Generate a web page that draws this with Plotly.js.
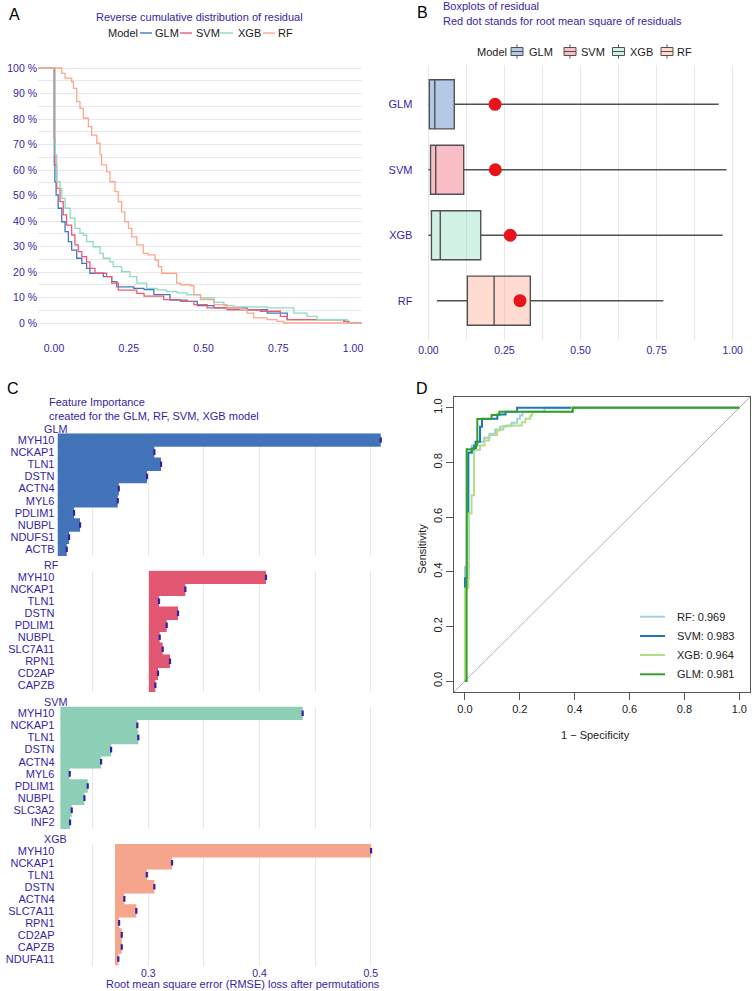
<!DOCTYPE html>
<html><head><meta charset="utf-8">
<script src="https://cdn.plot.ly/plotly-3.0.1.min.js"></script>
<style>html,body{margin:0;padding:0;background:#fff}#chart{width:752px;height:991px}</style>
</head><body><div id="chart"></div>
<script>
// ================= DATA =================
// Panel A: reverse cumulative distribution of |residual|
const models = ['GLM', 'SVM', 'XGB', 'RF'];
const glmResid = [0.0, 0.001, 0.003, 0.007, 0.014, 0.026, 0.037, 0.048, 0.059, 0.076, 0.093, 0.109, 0.120, 0.165, 0.193, 0.210, 0.267, 0.301, 0.334, 0.388, 0.445, 0.479, 0.535, 0.646, 0.713, 0.780, 0.969, 0.986];
const glmShare = [1.0, 0.620, 0.554, 0.502, 0.450, 0.397, 0.358, 0.319, 0.286, 0.254, 0.234, 0.214, 0.195, 0.182, 0.162, 0.142, 0.136, 0.131, 0.111, 0.090, 0.085, 0.068, 0.059, 0.052, 0.039, 0.013, 0.0065, 0];
const svmResid = [0.0, 0.001, 0.003, 0.009, 0.020, 0.031, 0.042, 0.059, 0.070, 0.081, 0.093, 0.109, 0.120, 0.137, 0.176, 0.193, 0.215, 0.277, 0.301, 0.367, 0.423, 0.468, 0.512, 0.579, 0.690, 0.757, 0.780, 0.969, 0.980];
const svmShare = [1.0, 0.725, 0.620, 0.528, 0.476, 0.424, 0.384, 0.345, 0.306, 0.280, 0.260, 0.240, 0.214, 0.195, 0.182, 0.156, 0.129, 0.116, 0.105, 0.092, 0.085, 0.072, 0.059, 0.052, 0.046, 0.026, 0.013, 0.0065, 0];
const xgbResid = [0.0, 0.004, 0.009, 0.020, 0.026, 0.037, 0.054, 0.070, 0.087, 0.098, 0.109, 0.131, 0.154, 0.165, 0.187, 0.198, 0.226, 0.254, 0.277, 0.310, 0.345, 0.377, 0.412, 0.444, 0.490, 0.535, 0.568, 0.601, 0.713, 0.802, 0.846, 0.880, 0.980];
const xgbShare = [1.0, 0.659, 0.554, 0.528, 0.489, 0.450, 0.411, 0.371, 0.352, 0.345, 0.319, 0.299, 0.273, 0.254, 0.240, 0.221, 0.201, 0.182, 0.156, 0.136, 0.130, 0.123, 0.118, 0.110, 0.098, 0.081, 0.068, 0.063, 0.059, 0.039, 0.026, 0.013, 0];
const rfResid = [0.020, 0.026, 0.037, 0.059, 0.065, 0.076, 0.087, 0.098, 0.115, 0.126, 0.143, 0.154, 0.159, 0.176, 0.187, 0.204, 0.215, 0.226, 0.237, 0.249, 0.260, 0.277, 0.299, 0.315, 0.338, 0.349, 0.360, 0.410, 0.423, 0.457, 0.468, 0.490, 0.535, 0.579, 0.624, 0.646, 0.668, 0.713, 0.746, 0.768];
const rfShare = [1.0, 0.979, 0.960, 0.946, 0.920, 0.868, 0.842, 0.803, 0.770, 0.737, 0.705, 0.659, 0.620, 0.593, 0.554, 0.515, 0.476, 0.436, 0.397, 0.371, 0.338, 0.306, 0.273, 0.267, 0.247, 0.221, 0.195, 0.156, 0.150, 0.146, 0.111, 0.092, 0.072, 0.059, 0.052, 0.039, 0.020, 0.013, 0.0065, 0];
const aXTicks = [0, 0.25, 0.5, 0.75, 1];
const aYPercents = [0, 10, 20, 30, 40, 50, 60, 70, 80, 90, 100];

// Panel B: boxplots of residuals
const boxQ1 = [0.003, 0.007, 0.010, 0.128];
const boxMedian = [0.021, 0.024, 0.039, 0.216];
const boxQ3 = [0.085, 0.116, 0.172, 0.335];
const boxLow = [0.0, 0.0, 0.0, 0.028];
const boxHigh = [0.954, 0.980, 0.967, 0.772];
const rmse = [0.219, 0.220, 0.269, 0.301];
const bXTicks = [0, 0.25, 0.5, 0.75, 1];

// Panel C: permutation feature importance
const glmVars = ['MYH10', 'NCKAP1', 'TLN1', 'DSTN', 'ACTN4', 'MYL6', 'PDLIM1', 'NUBPL', 'NDUFS1', 'ACTB'];
const glmLoss = [0.509, 0.3054, 0.3114, 0.2988, 0.2734, 0.2725, 0.2332, 0.2386, 0.2287, 0.2266];
const glmBase = 0.2185;
const rfVars = ['MYH10', 'NCKAP1', 'TLN1', 'DSTN', 'PDLIM1', 'NUBPL', 'SLC7A11', 'RPN1', 'CD2AP', 'CAPZB'];
const rfLoss = [0.4058, 0.3333, 0.3096, 0.3267, 0.3165, 0.3102, 0.3129, 0.3195, 0.3087, 0.3063];
const rfBase = 0.3006;
const svmVars = ['MYH10', 'NCKAP1', 'TLN1', 'DSTN', 'ACTN4', 'MYL6', 'PDLIM1', 'NUBPL', 'SLC3A2', 'INF2'];
const svmLoss = [0.4388, 0.2901, 0.2910, 0.2665, 0.2575, 0.2293, 0.2455, 0.2425, 0.2311, 0.2296];
const svmBase = 0.2209;
const xgbVars = ['MYH10', 'NCKAP1', 'TLN1', 'DSTN', 'ACTN4', 'SLC7A11', 'RPN1', 'CD2AP', 'CAPZB', 'NDUFA11'];
const xgbLoss = [0.5003, 0.3213, 0.2986, 0.3054, 0.2784, 0.2892, 0.2737, 0.2761, 0.2761, 0.2730];
const xgbBase = 0.270;
const cXGrid = [0.25, 0.3, 0.35, 0.4, 0.45, 0.5];
const cXLabels = [0.3, 0.4, 0.5];

// Panel D: ROC curves (x = 1 - specificity, y = sensitivity)
const rocRFx = [0, 0, 0.012, 0.025, 0.035, 0.07, 0.09, 0.11, 0.14, 0.17, 0.19, 0.20, 0.21, 0.29, 1.0];
const rocRFy = [0, 0.418, 0.84, 0.862, 0.876, 0.89, 0.905, 0.92, 0.933, 0.945, 0.96, 0.972, 0.985, 1.0, 1.0];
const rocSVMx = [0, 0, 0.012, 0.025, 0.04, 0.055, 0.062, 0.118, 0.148, 0.19, 1.0];
const rocSVMy = [0, 0.376, 0.835, 0.851, 0.876, 0.93, 0.96, 0.975, 0.985, 1.0, 1.0];
const rocXGBx = [0, 0, 0.012, 0.024, 0.033, 0.055, 0.071, 0.088, 0.117, 0.128, 0.152, 0.207, 0.22, 0.238, 0.245, 0.39, 1.0];
const rocXGBy = [0, 0.339, 0.613, 0.68, 0.845, 0.862, 0.88, 0.90, 0.917, 0.93, 0.935, 0.947, 0.96, 0.972, 0.985, 1.0, 1.0];
const rocGLMx = [0, 0.006, 0.033, 0.045, 0.097, 0.125, 0.393, 1.0];
const rocGLMy = [0, 0.848, 0.862, 0.959, 0.973, 0.985, 1.0, 1.0];
const rocNames = ['RF', 'SVM', 'XGB', 'GLM'];
const rocAUC = [0.969, 0.983, 0.964, 0.981];
const dTicks = [0, 0.2, 0.4, 0.6, 0.8, 1.0];

// ================= STYLE =================
const FONT = 'Liberation Sans, Arial, Helvetica, sans-serif';
const DX = '#371ea3';
const INK = '#1a1a1a';
const GRID = '#e8e8ea';
const modelColor = {GLM: '#4378bf', SVM: '#f05a71', XGB: '#8bdcbe', RF: '#ffa58c'};
const barColor = {GLM: '#4374b9', SVM: '#8ccfb6', XGB: '#f4a58b', RF: '#e25771'};
const boxFill = {GLM: 'rgba(67,120,191,0.4)', SVM: 'rgba(240,90,113,0.4)', XGB: 'rgba(139,220,190,0.4)', RF: 'rgba(255,165,140,0.4)'};
const rocColor = {RF: '#a6cee3', SVM: '#1f78b4', XGB: '#b2df8a', GLM: '#33a02c'};
const W = 752, H = 991;
const fx = v => v / W;
const fy = v => 1 - v / H;

const traces = [];

// ---- Panel A ----
const aSeries = {GLM: [glmResid, glmShare], SVM: [svmResid, svmShare], XGB: [xgbResid, xgbShare], RF: [rfResid, rfShare]};
models.forEach(m => {
  const [rx, ry] = aSeries[m];
  traces.push({
    type: 'scatter', mode: 'lines', xaxis: 'x', yaxis: 'y', hoverinfo: 'skip',
    x: [-1].concat(rx, [2]), y: [1].concat(ry, [0]),
    line: {shape: 'hv', color: modelColor[m], width: 1.3}
  });
});

// ---- Panel B ----
models.forEach((m, i) => {
  traces.push({
    type: 'box', orientation: 'h', xaxis: 'x2', yaxis: 'y2', hoverinfo: 'skip',
    y: [m], q1: [boxQ1[i]], median: [boxMedian[i]], q3: [boxQ3[i]],
    lowerfence: [boxLow[i]], upperfence: [boxHigh[i]],
    boxpoints: false, width: 0.75, whiskerwidth: 0,
    fillcolor: boxFill[m], line: {color: '#505050', width: 1.4}
  });
});
traces.push({
  type: 'scatter', mode: 'markers', xaxis: 'x2', yaxis: 'y2', hoverinfo: 'skip',
  x: rmse, y: models, marker: {size: 13, color: '#e8141c'}
});

// ---- Panel C ----
const facets = [
  ['GLM', glmVars, glmLoss, glmBase, 'y3'],
  ['RF', rfVars, rfLoss, rfBase, 'y4'],
  ['SVM', svmVars, svmLoss, svmBase, 'y5'],
  ['XGB', xgbVars, xgbLoss, xgbBase, 'y6']
];
facets.forEach(([m, vars, loss, base, ya]) => {
  traces.push({
    type: 'bar', orientation: 'h', xaxis: 'x3', yaxis: ya, hoverinfo: 'skip',
    y: vars, x: loss.map(v => v - base), base: base, width: 1.12,
    marker: {color: barColor[m], line: {width: 0}}
  });
  traces.push({
    type: 'scatter', mode: 'markers', xaxis: 'x3', yaxis: ya, hoverinfo: 'skip',
    y: vars, x: loss,
    marker: {symbol: 'line-ns', size: 4, line: {width: 2.2, color: DX}}
  });
});

// ---- Panel D ----
const rocData = {RF: [rocRFx, rocRFy], SVM: [rocSVMx, rocSVMy], XGB: [rocXGBx, rocXGBy], GLM: [rocGLMx, rocGLMy]};
rocNames.forEach(m => {
  traces.push({
    type: 'scatter', mode: 'lines', xaxis: 'x7', yaxis: 'y7', hoverinfo: 'skip',
    x: rocData[m][0], y: rocData[m][1],
    line: {shape: 'hv', color: rocColor[m], width: 2}
  });
});

// ================= LAYOUT =================
const aYVals = [], aYText = [];
for (let k = -1; k <= 21; k++) {
  const v = k * 0.05;
  aYVals.push(+v.toFixed(2));
  const p = aYPercents.find(q => Math.abs(q / 100 - v) < 1e-9);
  aYText.push(p === undefined ? '' : p + ' %');
}
const bXVals = [], bXText = [];
for (let k = 0; k <= 8; k++) {
  const v = k * 0.125;
  bXVals.push(v);
  const t = bXTicks.find(q => Math.abs(q - v) < 1e-9);
  bXText.push(t === undefined ? '' : t.toFixed(2));
}
const cXText = cXGrid.map(v => cXLabels.some(q => Math.abs(q - v) < 1e-9) ? String(v) : '');

function catAxis(domTop, domBot, vars) {
  return {
    domain: [fy(domBot), fy(domTop)], anchor: 'x3', type: 'category',
    categoryorder: 'array', categoryarray: vars, range: [9.55, -0.55],
    tickmode: 'array', tickvals: vars, ticktext: vars,
    showgrid: false, zeroline: false, ticks: '', showline: false,
    tickfont: {size: 11, color: DX, family: FONT}, fixedrange: true
  };
}

const annotations = [];
function ann(text, x, y, o) {
  o = o || {};
  annotations.push(Object.assign({
    text: text, x: fx(x), y: fy(y), xref: 'paper', yref: 'paper', showarrow: false,
    xanchor: 'left', yanchor: 'middle', borderpad: 0,
    font: {family: FONT, size: 11, color: DX}
  }, o));
}
const letterFont = {family: FONT, size: 16, color: '#000'};
// Panel letters
ann('A', 14, 15, {xanchor: 'center', font: letterFont});
ann('B', 422.7, 13, {xanchor: 'center', font: letterFont});
ann('C', 13, 388, {xanchor: 'center', font: letterFont});
ann('D', 422, 388.3, {xanchor: 'center', font: letterFont});
// A title + legend
ann('Reverse cumulative distribution of residual', 199.5, 17, {xanchor: 'center'});
ann('Model', 106.5, 33, {font: {family: FONT, size: 11, color: INK}});
const aLegLine = {GLM: [140, 152], SVM: [180, 192], XGB: [220, 233], RF: [263, 275]};
const aLegText = {GLM: 154, SVM: 195, XGB: 237, RF: 277};
const shapes = [];
models.forEach(m => {
  shapes.push({type: 'line', xref: 'paper', yref: 'paper', x0: fx(aLegLine[m][0]), x1: fx(aLegLine[m][1]), y0: fy(33), y1: fy(33), line: {color: modelColor[m], width: 1.4}});
  ann(m, aLegText[m], 33, {font: {family: FONT, size: 11, color: INK}});
});
// B title + legend
ann('Boxplots of residual', 441.7, 6.5);
ann('Red dot stands for root mean square of residuals', 441.7, 21);
ann('Model', 476, 51.7, {font: {family: FONT, size: 11, color: INK}});
const bLegCenter = {GLM: 517, SVM: 570, XGB: 618.5, RF: 667};
const bLegText = {GLM: 528, SVM: 579.5, XGB: 629, RF: 676};
models.forEach(m => {
  const c = bLegCenter[m];
  shapes.push({type: 'rect', xref: 'paper', yref: 'paper', x0: fx(c - 6), x1: fx(c + 6), y0: fy(55.5), y1: fy(47.5), fillcolor: boxFill[m], line: {color: '#505050', width: 1}});
  shapes.push({type: 'line', xref: 'paper', yref: 'paper', x0: fx(c - 6), x1: fx(c + 6), y0: fy(51.5), y1: fy(51.5), line: {color: '#505050', width: 1}});
  shapes.push({type: 'line', xref: 'paper', yref: 'paper', x0: fx(c), x1: fx(c), y0: fy(44.5), y1: fy(47.5), line: {color: '#505050', width: 1}});
  shapes.push({type: 'line', xref: 'paper', yref: 'paper', x0: fx(c), x1: fx(c), y0: fy(55.5), y1: fy(58.5), line: {color: '#505050', width: 1}});
  ann(m, bLegText[m], 51.7, {font: {family: FONT, size: 11, color: INK}});
});
// C titles and strips
ann('Feature Importance', 47.7, 401.7);
ann('created for the GLM, RF, SVM, XGB model', 47.7, 416);
const stripY = {GLM: 429.3, RF: 565.3, SVM: 702.3, XGB: 839};
Object.keys(stripY).forEach(m => ann(m, 42.7, stripY[m], {font: {family: FONT, size: 10.8, color: DX}}));
ann('Root mean square error (RMSE) loss after permutations', 242.7, 983.5, {xanchor: 'center'});
// D titles and legend
ann('1 \u2212 Specificity', 595, 735, {xanchor: 'center', font: {family: FONT, size: 11, color: '#222'}});
ann('Sensitivity', 421.7, 549, {xanchor: 'center', textangle: -90, font: {family: FONT, size: 11, color: '#222'}});
const dLegY = [616.7, 636, 655, 674.3];
rocNames.forEach((m, i) => {
  shapes.push({type: 'line', xref: 'paper', yref: 'paper', x0: fx(640), x1: fx(665), y0: fy(dLegY[i]), y1: fy(dLegY[i]), line: {color: rocColor[m], width: 2}});
  ann(m + ': ' + rocAUC[i].toFixed(3), 676, dLegY[i], {font: {family: FONT, size: 11, color: '#222'}});
});
// D diagonal reference line (spans the whole plotting region)
shapes.push({type: 'line', xref: 'x7', yref: 'y7', x0: -0.04, y0: -0.04, x1: 1.04, y1: 1.04, layer: 'below', line: {color: '#b0b0b0', width: 1}});

const layout = {
  width: W, height: H, margin: {l: 0, r: 0, t: 0, b: 0},
  paper_bgcolor: '#fff', plot_bgcolor: 'rgba(0,0,0,0)', showlegend: false,
  font: {family: FONT, size: 11, color: DX},
  xaxis: {
    domain: [fx(38), fx(362)], range: [-0.0535, 1.030], anchor: 'y',
    showgrid: false, zeroline: false, showline: false, ticks: '',
    tickvals: aXTicks, ticktext: aXTicks.map(v => v.toFixed(2)),
    tickfont: {size: 10.5, color: DX}, ticklabelstandoff: 4
  },
  yaxis: {
    domain: [fy(336), fy(55)], range: [-0.051, 1.051], anchor: 'x',
    showgrid: true, gridcolor: GRID, gridwidth: 1, zeroline: false, showline: false, ticks: '',
    tickvals: aYVals, ticktext: aYText, tickfont: {size: 10.5, color: DX}
  },
  xaxis2: {
    domain: [fx(413.4), fx(741.5)], range: [-0.0493, 1.029], anchor: 'y2',
    showgrid: true, gridcolor: GRID, gridwidth: 1, zeroline: false, showline: false, ticks: '',
    tickvals: bXVals, ticktext: bXText, tickfont: {size: 10.5, color: DX}, ticklabelstandoff: 2
  },
  yaxis2: {
    domain: [fy(340), fy(65)], anchor: 'x2', type: 'category',
    categoryorder: 'array', categoryarray: ['RF', 'XGB', 'SVM', 'GLM'], range: [-0.6, 3.6],
    showgrid: false, zeroline: false, ticks: '', showline: false,
    tickfont: {size: 11, color: DX}
  },
  xaxis3: {
    domain: [fx(55.5), fx(387.4)], range: [0.2165, 0.515], anchor: 'y6',
    showgrid: true, gridcolor: GRID, gridwidth: 1, zeroline: false, showline: false, ticks: '',
    tickvals: cXGrid, ticktext: cXText, tickfont: {size: 10.5, color: DX}, ticklabelstandoff: 0
  },
  yaxis3: catAxis(433.3, 556, glmVars),
  yaxis4: catAxis(570.7, 691.9, rfVars),
  yaxis5: catAxis(706.6, 829, svmVars),
  yaxis6: catAxis(844.1, 965.6, xgbVars),
  xaxis7: {
    domain: [fx(454), fx(750.3)], range: [-0.04, 1.04], anchor: 'y7',
    showgrid: false, zeroline: false, showline: true, mirror: true, linecolor: '#555', linewidth: 1,
    ticks: 'outside', ticklen: 7, tickwidth: 1, tickcolor: '#555',
    tickvals: dTicks, ticktext: dTicks.map(v => v.toFixed(1)), tickfont: {size: 11, color: '#222'}
  },
  yaxis7: {
    domain: [fy(692), fy(396.8)], range: [-0.04, 1.04], anchor: 'x7',
    showgrid: false, zeroline: false, showline: true, mirror: true, linecolor: '#555', linewidth: 1,
    ticks: 'outside', ticklen: 7, tickwidth: 1, tickcolor: '#555', tickangle: -90,
    tickvals: dTicks, ticktext: dTicks.map(v => v.toFixed(1)), tickfont: {size: 11, color: '#222'}
  },
  barmode: 'overlay', boxmode: 'overlay',
  annotations: annotations, shapes: shapes
};

Plotly.newPlot('chart', traces, layout, {staticPlot: true, displayModeBar: false});
</script>
</body></html>
